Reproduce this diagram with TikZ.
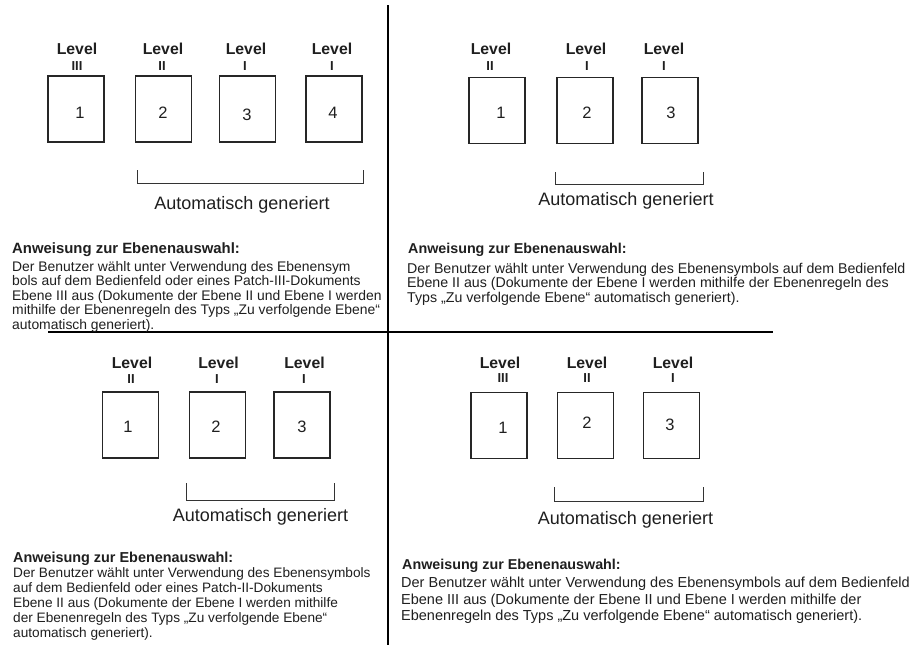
\documentclass[tikz,border=0pt]{standalone}
\usepackage{fontspec}
\setmainfont{Liberation Sans}
\begin{document}
\begin{tikzpicture}[x=1pt,y=-1pt,
  every node/.style={inner sep=0pt, text=black!88},
  doc/.style={draw=black!85, line width=1.1pt, minimum width=56pt, minimum height=66pt},
  lvl/.style={font=\fontsize{15.8}{16}\selectfont\bfseries},
  rom/.style={font=\fontsize{13}{13}\selectfont\bfseries},
  num/.style={font=\fontsize{16.5}{17}\selectfont},
  bracket/.style={draw=black!80, line width=1pt},
  autotext/.style={anchor=base, font=\fontsize{18}{20}\selectfont},
  heading/.style={anchor=north west, font=\fontsize{#1}{#1}\selectfont\bfseries},
  body/.style n args={2}{anchor=north west, align=left, font=\fontsize{#1}{#2}\selectfont},
  divider/.style={line width=1.4pt, draw=black}
]
\useasboundingbox (0,0) rectangle (922,645);
\fill[white] (0,0) rectangle (922,645);

% panel dividers
\draw[divider] (388,5) -- (388,645);
\draw[divider] (48,332) -- (773,332);

% ---- top left: level III selected ----
\node[doc] (a1) at (76,109) {};
\node[doc] (a2) at (163.5,109) {};
\node[doc] (a3) at (247.5,109) {};
\node[doc] (a4) at (334,109) {};
\node[num] (a1n) at (80,113) {1};
\node[num] (a2n) at (163,113) {2};
\node[num] (a3n) at (247,114.5) {3};
\node[num] (a4n) at (333,113) {4};
\node[lvl] (a1l) at (77,49) {Level};
\node[lvl] (a2l) at (163,49) {Level};
\node[lvl] (a3l) at (246,49) {Level};
\node[lvl] (a4l) at (332,49) {Level};
\node[rom] (a1r) at (77,66) {III};
\node[rom] (a2r) at (162,66) {II};
\node[rom] (a3r) at (245,66) {I};
\node[rom] (a4r) at (332,66) {I};
\draw[bracket] (137,170) -- (137,183) -- (363,183) -- (363,170);
\node[autotext] (ag) at (242,209.7) {Automatisch generiert};
\node[heading=14.9] (ah) at (12,242.5) {Anweisung zur Ebenenauswahl:};
\node[body={13.9}{14.5}] (ab) at (12,260.8) {Der Benutzer wählt unter Verwendung des Ebenensym\\
bols auf dem Bedienfeld oder eines Patch-III-Dokuments\\
Ebene III aus (Dokumente der Ebene II und Ebene I werden\\
mithilfe der Ebenenregeln des Typs „Zu verfolgende Ebene“\\
automatisch generiert).};

% ---- top right: level II selected ----
\node[doc] (b1) at (497,110.5) {};
\node[doc] (b2) at (585,110.5) {};
\node[doc] (b3) at (670,110.5) {};
\node[num] (b1n) at (501,113) {1};
\node[num] (b2n) at (587,113) {2};
\node[num] (b3n) at (671,113) {3};
\node[lvl] (b1l) at (491,49) {Level};
\node[lvl] (b2l) at (586,49) {Level};
\node[lvl] (b3l) at (664,49) {Level};
\node[rom] (b1r) at (490,66) {II};
\node[rom] (b2r) at (587,66) {I};
\node[rom] (b3r) at (664,66) {I};
\draw[bracket] (555,172) -- (555,184) -- (703,184) -- (703,172);
\node[autotext] (bg) at (626,205.4) {Automatisch generiert};
\node[heading=14.3] (bh) at (408,242.6) {Anweisung zur Ebenenauswahl:};
\node[body={14.2}{14.5}] (bb) at (407,262.9) {Der Benutzer wählt unter Verwendung des Ebenensymbols auf dem Bedienfeld\\
Ebene II aus (Dokumente der Ebene I werden mithilfe der Ebenenregeln des\\
Typs „Zu verfolgende Ebene“ automatisch generiert).};

% ---- bottom left: level II via patch document ----
\node[doc] (c1) at (130.5,425) {};
\node[doc] (c2) at (217.5,425) {};
\node[doc] (c3) at (302,425) {};
\node[num] (c1n) at (128,427) {1};
\node[num] (c2n) at (216,427) {2};
\node[num] (c3n) at (302,427) {3};
\node[lvl] (c1l) at (132,363) {Level};
\node[lvl] (c2l) at (218.5,363) {Level};
\node[lvl] (c3l) at (304.5,363) {Level};
\node[rom] (c1r) at (131,379) {II};
\node[rom] (c2r) at (217,379) {I};
\node[rom] (c3r) at (304,379) {I};
\draw[bracket] (186,483) -- (186,500) -- (334,500) -- (334,483);
\node[autotext] (cg) at (260.5,521.4) {Automatisch generiert};
\node[heading=14.4] (ch) at (13,551.7) {Anweisung zur Ebenenauswahl:};
\node[body={13.65}{15}] (cb) at (13,567.1) {Der Benutzer wählt unter Verwendung des Ebenensymbols\\
auf dem Bedienfeld oder eines Patch-II-Dokuments\\
Ebene II aus (Dokumente der Ebene I werden mithilfe\\
der Ebenenregeln des Typs „Zu verfolgende Ebene“\\
automatisch generiert).};

% ---- bottom right: level III selected ----
\node[doc] (d1) at (499,425.5) {};
\node[doc] (d2) at (585.5,425.5) {};
\node[doc] (d3) at (671.5,425.5) {};
\node[num] (d1n) at (503,428) {1};
\node[num] (d2n) at (587,423) {2};
\node[num] (d3n) at (670,425) {3};
\node[lvl] (d1l) at (500,363) {Level};
\node[lvl] (d2l) at (587,363) {Level};
\node[lvl] (d3l) at (673,363) {Level};
\node[rom] (d1r) at (503,378) {III};
\node[rom] (d2r) at (587,378) {II};
\node[rom] (d3r) at (673,378) {I};
\draw[bracket] (554,487) -- (554,501) -- (703,501) -- (703,487);
\node[autotext] (dg) at (625.5,524.4) {Automatisch generiert};
\node[heading=14.3] (dh) at (402,558.8) {Anweisung zur Ebenenauswahl:};
\node[body={14.5}{16.8}] (db) at (401,576.5) {Der Benutzer wählt unter Verwendung des Ebenensymbols auf dem Bedienfeld\\
Ebene III aus (Dokumente der Ebene II und Ebene I werden mithilfe der\\
Ebenenregeln des Typs „Zu verfolgende Ebene“ automatisch generiert).};
\end{tikzpicture}
\end{document}
